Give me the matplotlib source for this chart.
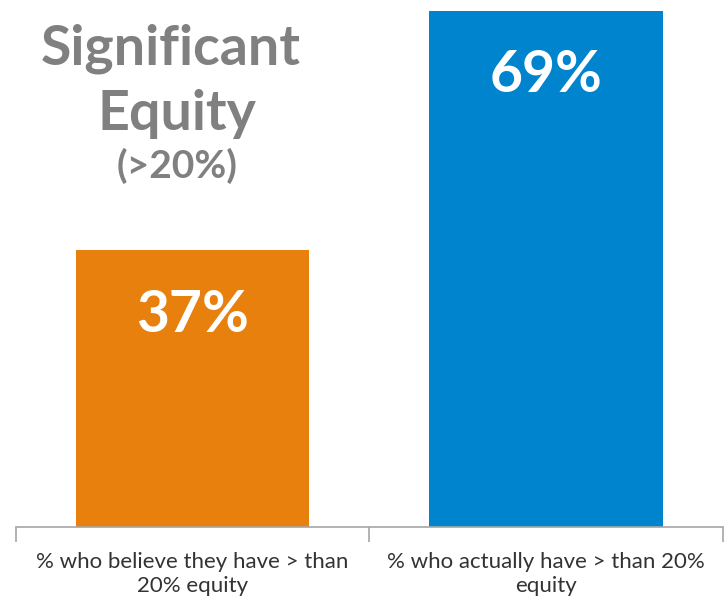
import matplotlib.pyplot as plt

# --- Data ---
categories = ["% who believe they have > than\n20% equity",
              "% who actually have > than 20%\nequity"]
values = [37, 69]
bar_colors = ["#E8800D", "#0084CE"]

plt.rcParams['font.family'] = ['Lato', 'DejaVu Sans']

fig = plt.figure(figsize=(7.25, 5.98), dpi=100)
ax = fig.add_axes([0.022, 0.1187, 0.975, 0.8813])

x = range(len(values))
ax.bar(x, values, width=0.66, color=bar_colors, zorder=2)

for xi, v in zip(x, values):
    ax.text(xi, v - 8.7, f"{v}%", ha="center", va="center",
            color="white", fontsize=41, fontweight="bold")

ax.set_xlim(-0.5, 1.5)
ax.set_ylim(0, 70.45)

for s in ["top", "right", "left"]:
    ax.spines[s].set_visible(False)
ax.spines["bottom"].set_color("#A6A6A6")
ax.spines["bottom"].set_linewidth(1.2)
ax.set_yticks([])

# category labels without tick marks, separators as minor ticks
ax.set_xticks(list(x))
ax.set_xticklabels(categories, fontsize=16, color="#333333", linespacing=1.25)
ax.tick_params(axis="x", which="major", length=0, pad=18)
ax.set_xticks([-0.5, 0.5, 1.5], minor=True)
ax.tick_params(axis="x", which="minor", length=11, color="#A6A6A6", width=1.2)

# --- Title block ---
fig.text(0.235, 0.918, "Significant", ha="center", va="center",
         fontsize=40, fontweight="bold", color="#808080")
fig.text(0.244, 0.81, "Equity", ha="center", va="center",
         fontsize=40, fontweight="bold", color="#808080")
fig.text(0.244, 0.722, "(>20%)", ha="center", va="center",
         fontsize=28, fontweight="bold", color="#808080")

plt.savefig("out.png", dpi=100)
